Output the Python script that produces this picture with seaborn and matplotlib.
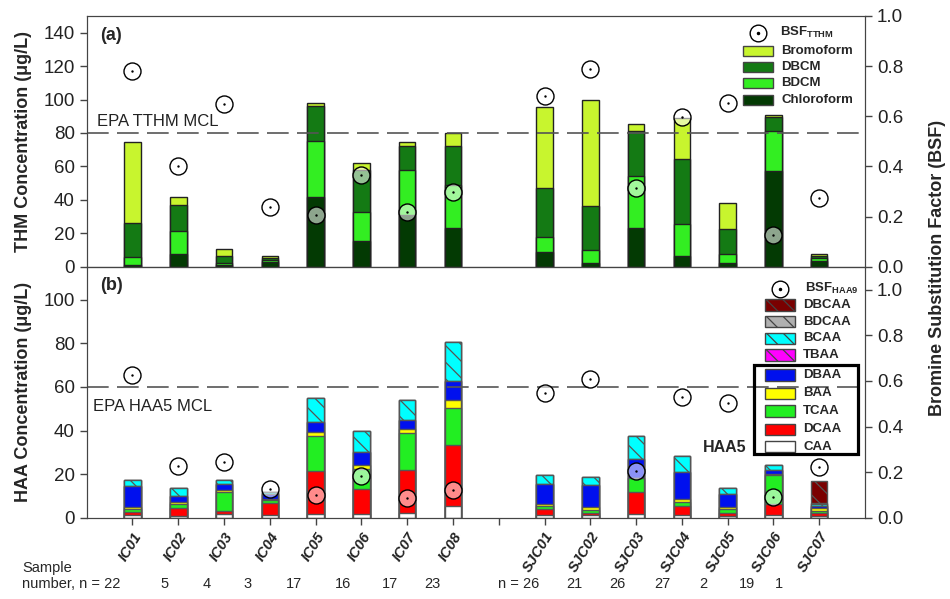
# THM / HAA stacked bars with bromine substitution factor

from matplotlib import pyplot as plt
from matplotlib import font_manager
from matplotlib.patches import Rectangle
from matplotlib.lines import Line2D
import numpy as np
import pandas as pd
import seaborn as sns


samples = ['IC01', 'IC02', 'IC03', 'IC04', 'IC05', 'IC06', 'IC07', 'IC08',
           'SJC01', 'SJC02', 'SJC03', 'SJC04', 'SJC05', 'SJC06', 'SJC07']
n_samples = [22, 5, 4, 3, 17, 16, 17, 23, 26, 21, 26, 27, 2, 19, 1]

# THM species, ug/L (bottom -> top of stack)
chloroform = [1.0, 7.6, 1.0, 2.6, 42.0, 15.2, 31.0, 23.2, 8.6, 2.0, 23.2, 6.2, 2.0, 57.4, 3.2]
bdcm = [5.0, 14.0, 1.4, 1.2, 33.2, 17.6, 26.6, 25.6, 9.0, 7.8, 30.8, 19.4, 5.8, 24.0, 2.0]
dbcm = [20.0, 15.6, 4.0, 1.2, 21.2, 25.2, 14.8, 23.6, 29.4, 26.4, 27.4, 39.0, 14.8, 8.2, 1.4]
bromoform = [48.4, 4.4, 4.2, 1.6, 1.8, 4.0, 2.2, 7.4, 48.8, 63.4, 4.2, 24.4, 15.6, 1.2, 1.2]
bsf_tthm = [0.78, 0.40, 0.65, 0.24, 0.205, 0.365, 0.218, 0.298,
            0.68, 0.79, 0.313, 0.596, 0.654, 0.128, 0.274]

# HAA species, ug/L (bottom -> top of stack)
caa = [1.2, 1.0, 1.5, 1.1, 1.5, 1.5, 2.3, 5.2, 1.2, 1.1, 1.8, 1.4, 1.0, 1.4, 1.0]
dcaa = [1.2, 3.3, 1.5, 5.8, 20.1, 11.8, 19.8, 28.0, 2.6, 1.2, 10.1, 3.8, 1.2, 5.0, 1.0]
tcaa = [1.5, 2.2, 8.6, 1.0, 16.1, 8.9, 16.6, 16.9, 1.4, 1.2, 6.5, 2.0, 1.7, 13.0, 1.2]
baa = [1.0, 0.8, 1.2, 0.8, 1.8, 1.8, 1.9, 4.0, 0.9, 1.2, 0.0, 1.5, 1.0, 0.5, 1.2]
dbaa = [9.6, 2.5, 2.8, 2.0, 4.3, 6.3, 4.0, 8.4, 9.5, 10.5, 8.4, 12.1, 6.1, 2.2, 0.8]
tbaa = [0.0] * 15
bcaa = [3.0, 3.7, 1.6, 0.9, 11.3, 9.4, 9.2, 18.2, 4.0, 3.5, 10.6, 7.5, 2.6, 2.1, 0.9]
bdcaa = [0.0] * 14 + [0.8]
dbcaa = [0.0] * 14 + [10.1]
bsf_haa9 = [0.628, 0.226, 0.245, 0.126, 0.10, 0.183, 0.087, 0.12,
            0.548, 0.607, 0.207, 0.529, 0.504, 0.09, 0.223]

thm_names = ['Chloroform', 'BDCM', 'DBCM', 'Bromoform']
thm_colors = ['#033a03', '#33ee22', '#147a14', '#c8f52e']
haa_names = ['CAA', 'DCAA', 'TCAA', 'BAA', 'DBAA', 'TBAA', 'BCAA', 'BDCAA', 'DBCAA']
haa_colors = ['white', '#ff0000', '#22ee22', '#ffff00', '#0010ee',
              '#ff00ff', '#00ffff', '#b0b0b0', '#7a0000']
haa_hatch = [None, None, None, None, None, '\\\\', '\\\\', '\\\\', '\\\\']

# bar positions: gap between IC and SJC groups
pos = list(range(1, 9)) + list(range(10, 17))

sns.set_style('ticks')
plt.rcParams['font.family'] = ['Liberation Sans', 'DejaVu Sans']
plt.rcParams['mathtext.fontset'] = 'custom'
plt.rcParams['mathtext.rm'] = 'Liberation Sans'
plt.rcParams['mathtext.bf'] = 'Liberation Sans:bold'
plt.rcParams['axes.edgecolor'] = '#444444'
plt.rcParams['hatch.linewidth'] = 0.9

W, H = 950, 599
fig = plt.figure(figsize=(9.5, 5.99), dpi=100)
ax_a = fig.add_axes([86.7 / W, 1 - 266.7 / H, 778.3 / W, 250.7 / H])
ax_b = fig.add_axes([86.7 / W, 1 - 517.7 / H, 778.3 / W, 250.7 / H])


def px(x, y):
    return x / W, 1 - y / H


def stacked(ax, layers, colors, hatches, edge):
    cum = np.cumsum(np.array(layers), axis=0)
    # draw tallest first so each lower layer covers the one above
    for i in range(len(layers) - 1, -1, -1):
        df = pd.DataFrame({'pos': pos, 'val': cum[i]})
        sns.barplot(data=df, x='pos', y='val', native_scale=True, width=0.36,
                    color=colors[i], saturation=1, hatch=hatches[i],
                    edgecolor=edge, linewidth=1.0, errorbar=None, ax=ax)


def bsf_points(ax, values):
    df = pd.DataFrame({'pos': pos, 'bsf': values})
    sns.scatterplot(data=df, x='pos', y='bsf', s=150, color=(1, 1, 1, 0.55),
                    edgecolor='black', linewidth=1.0, ax=ax, zorder=5)
    sns.scatterplot(data=df, x='pos', y='bsf', s=3, color='black',
                    linewidth=0, ax=ax, zorder=6)


stacked(ax_a, [chloroform, bdcm, dbcm, bromoform], thm_colors, [None] * 4, '#222222')
stacked(ax_b, [caa, dcaa, tcaa, baa, dbaa, tbaa, bcaa, bdcaa, dbcaa],
        haa_colors, haa_hatch, '#555555')

ax_a.axhline(80, color='#555555', lw=1.2, dashes=(13, 5), zorder=8)
ax_b.axhline(60, color='#555555', lw=1.2, dashes=(13, 5), zorder=8)
ax_a.text(0.22, 87, 'EPA TTHM MCL', fontsize=12, color='#222222', va='center')
ax_b.text(0.14, 51, 'EPA HAA5 MCL', fontsize=12, color='#222222', va='center')
ax_a.text(0.017, 0.924, '(a)', transform=ax_a.transAxes, fontsize=13,
          fontweight='bold', va='center')
ax_b.text(0.017, 0.928, '(b)', transform=ax_b.transAxes, fontsize=13,
          fontweight='bold', va='center')

for ax, top, step in [(ax_a, 150, 20), (ax_b, 115, 20)]:
    ax.set_xlim(0, 17)
    ax.set_ylim(0, top)
    ax.set_yticks(np.arange(0, top, step))
    ax.set_xticks(range(1, 17))
    ax.set_xlabel('')
    ax.tick_params(direction='out', length=5, width=1, color='#444444',
                   labelsize=13.5, labelcolor='#222222')

ax_a.set_xticklabels([])
ax_b.set_xticklabels([s for s in samples[:8]] + [''] + samples[8:],
                     rotation=58, ha='right', rotation_mode='anchor',
                     fontsize=10.5, fontweight='bold', fontstyle='italic')
ax_b.tick_params(axis='x', labelsize=10.5)
ax_a.set_ylabel('THM Concentration (\u03bcg/L)', fontsize=13, fontweight='bold')
ax_b.set_ylabel('HAA Concentration (\u03bcg/L)', fontsize=13, fontweight='bold')
ax_a.yaxis.set_label_coords(-0.07, 0.5)
ax_b.yaxis.set_label_coords(-0.07, 0.5)

tw_a = ax_a.twinx()
tw_b = ax_b.twinx()
bsf_points(tw_a, bsf_tthm)
bsf_points(tw_b, bsf_haa9)
for tw, top in [(tw_a, 1.0), (tw_b, 1.1)]:
    tw.set_ylim(0, top)
    tw.set_yticks(np.arange(0, 1.01, 0.2))
    tw.set_yticklabels([f'{v:.1f}' for v in np.arange(0, 1.01, 0.2)])
    tw.set_ylabel('')
    tw.tick_params(direction='out', length=5, width=1, color='#444444',
                   labelsize=13.5, labelcolor='#222222')

fig.text(937 / W, 1 - 268 / H, 'Bromine Substitution Factor (BSF)', rotation=90,
         fontsize=13, fontweight='bold', ha='center', va='center')


# legends drawn by hand
def leg_symbol(x, y):
    fig.add_artist(Line2D([x / W], [1 - y / H], marker='o', ms=12, mfc='white',
                          mec='black', mew=1.0, transform=fig.transFigure))
    fig.add_artist(Line2D([x / W], [1 - y / H], marker='o', ms=1.5, mfc='black',
                          mec='black', transform=fig.transFigure))


def leg_patch(x0, yc, label, fc, hatch=None, h=11):
    fig.add_artist(Rectangle(px(x0, yc + h / 2), 30 / W, h / H, transform=fig.transFigure,
                             facecolor=fc, edgecolor='#444444', lw=1, hatch=hatch))
    fig.text(*px(x0 + 38, yc), label, fontsize=9.5, fontweight='bold', va='center')


leg_symbol(758, 33)
fig.text(*px(780, 32), r'BSF$_{\mathbf{TTHM}}$', fontsize=9.5, fontweight='bold', va='center')
for name, yc in zip(['Bromoform', 'DBCM', 'BDCM', 'Chloroform'], [50.7, 66.7, 83.3, 100]):
    leg_patch(743, yc, name, thm_colors[thm_names.index(name)], h=10)

leg_symbol(780, 289)
fig.text(*px(805, 288), r'BSF$_{\mathbf{HAA9}}$', fontsize=9.5, fontweight='bold', va='center')
haa_rows = [305, 321.7, 338.3, 355, 375, 393.3, 411, 429.3, 446.7]
for name, yc in zip(haa_names[::-1], haa_rows):
    i = haa_names.index(name)
    leg_patch(765, yc, name, haa_colors[i], hatch=haa_hatch[i], h=11.5)

fig.add_artist(Rectangle(px(754.3, 454), 104 / W, 89 / H, transform=fig.transFigure,
                         fill=False, edgecolor='black', lw=2.3))
fig.text(*px(703, 447), 'HAA5', fontsize=11.5, fontweight='bold', va='center')

# sample numbers
names = {f.name for f in font_manager.fontManager.ttflist}
narrow = 'Liberation Sans Narrow' if 'Liberation Sans Narrow' in names else 'Liberation Sans'
n_x = [165, 207, 248, 294, 343, 390, 432, None, 574, 617, 662, 703, 747, 779]
fig.text(*px(22, 568), 'Sample', fontsize=10.5, family=narrow, va='center')
fig.text(*px(22, 584), f'number, n = {n_samples[0]}', fontsize=10.5, family=narrow, va='center')
fig.text(*px(539, 584), f'n = {n_samples[8]}', fontsize=10.5, family=narrow,
         va='center', ha='right')
for n, x in zip(n_samples[1:], n_x):
    if x is not None:
        fig.text(*px(x, 584), str(n), fontsize=10.5, family=narrow, va='center', ha='center')

plt.savefig('out.png', dpi=100)
